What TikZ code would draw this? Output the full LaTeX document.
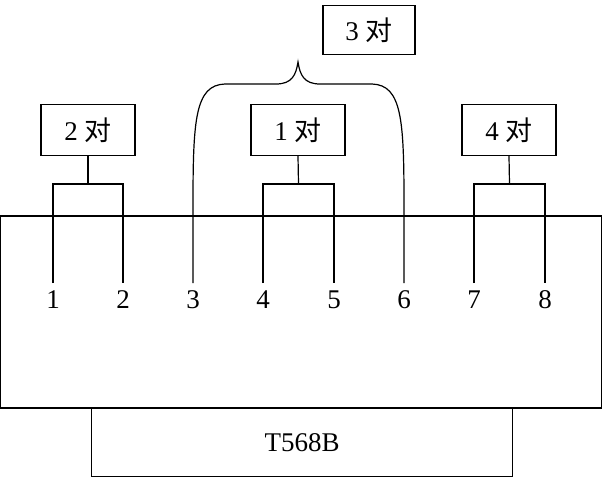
\documentclass[tikz,border=0pt]{standalone}
\usepackage{fontspec}
\usetikzlibrary{calc}
\setmainfont{Liberation Serif}
\newfontfamily\cjk{Noto Sans CJK SC}
\begin{document}
\begin{tikzpicture}[x=1pt,y=-1pt,line width=1.2pt,
  lbl/.style={draw,minimum width=94pt,minimum height=51pt,inner sep=0pt,font=\fontsize{27}{29}\selectfont},
  num/.style={font=\fontsize{27}{29}\selectfont,inner sep=0pt}]
\useasboundingbox (0,0) rectangle (602,479);
\draw (0.6,216) rectangle (601.4,408);
\node[draw,minimum width=421pt,minimum height=68pt,inner sep=0pt,anchor=north west,font=\fontsize{27}{29}\selectfont] (std) at (91,408) {T568B};
\node[lbl] (b2) at (88,130) {2 {\cjk 对}};
\node[lbl] (b1) at (298,130) {1 {\cjk 对}};
\node[lbl] (b4) at (509,130) {4 {\cjk 对}};
\node[lbl,minimum width=92pt,minimum height=49pt] (b3) at (369,30) {3 {\cjk 对}};
\foreach \x [count=\i] in {53,123,193,263,334,404,474,545}{
  \node[num] (n\i) at (\x,300) {\i};
  \coordinate (p\i) at (\x,283);
}
\foreach \a/\b/\bx in {1/2/b2,4/5/b1,7/8/b4}{
  \coordinate (t\a) at ($(p\a)+(0,-99)$);
  \coordinate (t\b) at ($(p\b)+(0,-99)$);
  \draw (p\a) -- (t\a) -- (t\b) -- (p\b);
  \draw ($(t\a)!0.5!(t\b)$) -- (\bx.south);
}
\coordinate (c3) at ($(p3)+(0,-78)$);
\coordinate (c6) at ($(p6)+(0,-78)$);
\coordinate (tip) at (298,62);
\draw (p3) -- (c3) .. controls (193,120) and (195,85) .. (225,84)
  -- (276,84) .. controls (292,84) and (296,75) .. (tip)
  .. controls (300,75) and (304,84) .. (320,84) -- (372,84)
  .. controls (402,85) and (404,120) .. (c6) -- (p6);
\end{tikzpicture}
\end{document}
